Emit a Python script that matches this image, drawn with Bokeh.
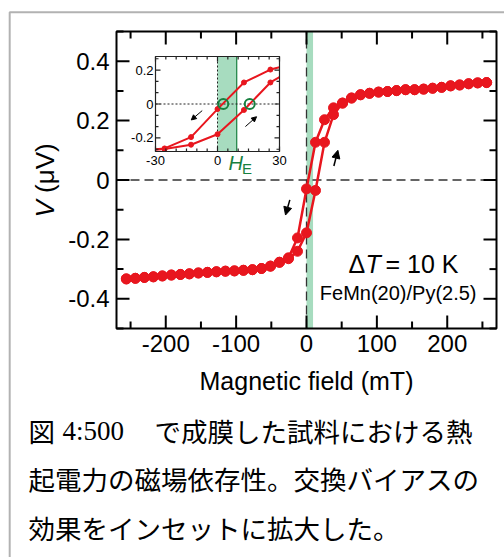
import math
from bokeh.plotting import figure
from bokeh.models import (Range1d, BoxAnnotation, Label, Arrow, NormalHead,
                          CoordinateMapping, LinearScale)
from bokeh.core.properties import value
from bokeh.embed import file_html
from bokeh.resources import INLINE

# ---------------- data ----------------
field_mT = [-256, -243.2, -230.4, -217.6, -204.8, -192, -179.2, -166.4, -153.6, -140.8,
            -128, -115.2, -102.4, -89.6, -76.8, -64, -51.2, -38.4, -25.6, -12.8,
            0, 12.8, 25.6, 38.4, 51.2, 64, 76.8, 89.6, 102.4, 115.2,
            128, 140.8, 153.6, 166.4, 179.2, 192, 204.8, 217.6, 230.4, 243.2, 256]
# decreasing-field branch
v_down = [-0.333, -0.331, -0.328, -0.326, -0.323, -0.320, -0.318, -0.316, -0.313, -0.311,
          -0.309, -0.307, -0.306, -0.304, -0.302, -0.298, -0.290, -0.277, -0.262, -0.195,
          -0.030, 0.127, 0.203, 0.243, 0.259, 0.276, 0.287, 0.292, 0.296, 0.298,
          0.301, 0.304, 0.304, 0.306, 0.309, 0.312, 0.317, 0.320, 0.324, 0.327, 0.328]
# increasing-field branch
v_up = [-0.333, -0.331, -0.328, -0.326, -0.323, -0.320, -0.318, -0.316, -0.313, -0.311,
        -0.309, -0.307, -0.306, -0.304, -0.302, -0.298, -0.290, -0.277, -0.265, -0.240,
        -0.178, -0.035, 0.127, 0.220, 0.259, 0.276, 0.287, 0.292, 0.296, 0.298,
        0.301, 0.304, 0.304, 0.306, 0.309, 0.312, 0.317, 0.320, 0.324, 0.327, 0.328]

h_exchange = 9.3              # exchange bias field H_E (mT)
zero_crossings = [2.8, 15.6]  # mT
zero_v = [0, 0]

x_range = (-270, 270)
y_range = (-0.5, 0.5)
x_ticks = [-200, -100, 0, 100, 200]
x_tick_labels = ["-200", "-100", "0", "100", "200"]
x_minor = [-250, -150, -50, 50, 150, 250]
y_ticks = [-0.4, -0.2, 0, 0.2, 0.4]
y_tick_labels = ["-0.4", "-0.2", "0", "0.2", "0.4"]
y_minor = [-0.5, -0.3, -0.1, 0.1, 0.3, 0.5]

in_x_range = (-30, 30)
in_y_range = (-0.28, 0.28)
in_x_ticks = [-30, 0, 30]
in_x_tick_labels = ["-30", "0", "30"]
in_x_minor = [-25, -20, -15, -10, -5, 5, 10, 15, 20, 25]
in_y_ticks = [-0.2, 0, 0.2]
in_y_tick_labels = ["-0.2", "0", "0.2"]
in_y_minor = [-0.2667, -0.1333, -0.0667, 0.0667, 0.1333, 0.2667]

x_label = "Magnetic field (mT)"
caption_first = ["図", "4:500", "で成膜した試料における熱"]
caption_lines = ["起電力の磁場依存性。交換バイアスの", "効果をインセットに拡大した。"]

RED = "#e8161e"
GREEN_BAND = "#a7dcbf"
GREEN_DARK = "#17803f"
AX = "black"
FONT = "Liberation Sans"
JP = "Noto Sans CJK JP"

W, H = 504, 557

# The page canvas: plot units are pixels (y upward); all panels are drawn inside it.
p = figure(width=W, height=H, x_range=Range1d(0, W), y_range=Range1d(0, H),
           x_axis_type=None, y_axis_type=None, min_border=0,
           output_backend="svg", toolbar_location=None, outline_line_color=None,
           background_fill_color="white", border_fill_color="white")
p.grid.visible = False

# main plot area: page x 116..496, page y 31..328
main = CoordinateMapping(x_source=Range1d(*x_range), y_source=Range1d(*y_range),
                         x_scale=LinearScale(), y_scale=LinearScale(),
                         x_target=Range1d(116, 496), y_target=Range1d(H - 328, H - 31))
# inset plot area: page x 155..279, page y 56..151
inset = CoordinateMapping(x_source=Range1d(*in_x_range), y_source=Range1d(*in_y_range),
                          x_scale=LinearScale(), y_scale=LinearScale(),
                          x_target=Range1d(155, 279), y_target=Range1d(H - 151, H - 56))


def on(mapping, r):
    r.coordinates = mapping
    return r


def clip_x(xs, ys, lo, hi):
    cx, cy = [], []
    for i, (x, y) in enumerate(zip(xs, ys)):
        if i > 0:
            xp, yp = xs[i - 1], ys[i - 1]
            for b in (lo, hi):
                if (xp - b) * (x - b) < 0:
                    t = (b - xp) / (x - xp)
                    cx.append(b)
                    cy.append(yp + t * (y - yp))
        if lo <= x <= hi:
            cx.append(x)
            cy.append(y)
    return cx, cy


def frame_and_ticks(mapping, xr, yr, wpx, hpx, xt, xm, yt, ym, lmaj, lmin, lw, color,
                    xlabels, ylabels, fsize, xoff, yoff):
    x0, x1 = xr
    y0, y1 = yr
    dx = (x1 - x0) / wpx
    dy = (y1 - y0) / hpx
    for ticks, L in ((xt, lmaj), (xm, lmin)):
        n = len(ticks)
        on(mapping, p.segment(x0=ticks + ticks, y0=[y0] * n + [y1] * n, x1=ticks + ticks,
                              y1=[y0 + L * dy] * n + [y1 - L * dy] * n,
                              line_color=color, line_width=lw))
    for ticks, L in ((yt, lmaj), (ym, lmin)):
        n = len(ticks)
        on(mapping, p.segment(y0=ticks + ticks, x0=[x0] * n + [x1] * n, y1=ticks + ticks,
                              x1=[x0 + L * dx] * n + [x1 - L * dx] * n,
                              line_color=color, line_width=lw))
    on(mapping, p.quad(left=[x0], right=[x1], bottom=[y0], top=[y1], fill_color=None,
                       line_color=color, line_width=lw))
    on(mapping, p.text(x=xt, y=[y0] * len(xt), text=xlabels, y_offset=yoff,
                       text_font=value(FONT), text_font_size=fsize, text_align="center",
                       text_baseline="top", text_color="black"))
    on(mapping, p.text(x=[x0] * len(yt), y=yt, text=ylabels, x_offset=-xoff,
                       text_font=value(FONT), text_font_size=fsize, text_align="right",
                       text_baseline="middle", text_color="black"))


# ---------- main plot ----------
on(main, p.quad(left=[0], right=[h_exchange], bottom=[y_range[0]], top=[y_range[1]],
                fill_color=GREEN_BAND, line_color=None))
on(main, p.segment(x0=[x_range[0], 0], y0=[0, y_range[0]], x1=[x_range[1], 0],
                   y1=[0, y_range[1]], line_color="#333333", line_width=1.3,
                   line_dash="9 5"))
on(main, p.line(field_mT, v_down, line_color=RED, line_width=2.5))
on(main, p.line(field_mT, v_up, line_color=RED, line_width=2.5))
on(main, p.scatter(field_mT, v_down, size=10, fill_color=RED, line_color=RED))
on(main, p.scatter(field_mT, v_up, size=10, fill_color=RED, line_color=RED))
frame_and_ticks(main, x_range, y_range, 380, 297, x_ticks, x_minor, y_ticks, y_minor,
                13, 7, 2, AX, x_tick_labels, y_tick_labels, "24px", 7, 6)

# ---------- inset ----------
ix0, ix1 = in_x_range
iy0, iy1 = in_y_range
on(inset, p.quad(left=[ix0], right=[ix1], bottom=[iy0], top=[iy1], fill_color="white",
                 line_color=None))
on(inset, p.quad(left=[0], right=[h_exchange], bottom=[iy0], top=[iy1],
                 fill_color=GREEN_BAND, line_color=None))
on(inset, p.segment(x0=[h_exchange], y0=[iy0], x1=[h_exchange], y1=[iy1],
                    line_color=GREEN_DARK, line_width=1.2))
on(inset, p.segment(x0=[ix0, 0], y0=[0, iy0], x1=[ix1, 0], y1=[0, iy1],
                    line_color="#222222", line_width=1, line_dash="2 2"))
for vv in (v_down, v_up):
    cx, cy = clip_x(field_mT, vv, ix0, ix1)
    on(inset, p.line(cx, cy, line_color=RED, line_width=2))
    sx = [h for h in field_mT if ix0 <= h <= ix1]
    sy = [v for h, v in zip(field_mT, vv) if ix0 <= h <= ix1]
    on(inset, p.scatter(sx, sy, size=5, fill_color=RED, line_color=RED))
on(inset, p.scatter(zero_crossings, zero_v, size=10, fill_color=None,
                    line_color=GREEN_DARK, line_width=2))
frame_and_ticks(inset, in_x_range, in_y_range, 124, 95, in_x_ticks, in_x_minor,
                in_y_ticks, in_y_minor, 5, 3, 1.2, "#222222",
                in_x_tick_labels, in_y_tick_labels, "13px", 2, 4)

# ---------- arrows ----------
arrows = [
    (main, -23.7, -0.067, -29.8, -0.118, 8, 1.5),
    (main, 38.9, 0.047, 44.6, 0.100, 8, 1.5),
    (inset, -7.4, -0.039, -12.7, -0.094, 5, 1),
    (inset, 13.5, -0.133, 18.9, -0.075, 5, 1),
]
for m, xs_, ys_, xe_, ye_, hs, lw in arrows:
    a = Arrow(end=NormalHead(size=hs, fill_color="black", line_color="black"),
              x_start=xs_, y_start=ys_, x_end=xe_, y_end=ye_,
              line_color="black", line_width=lw)
    a.coordinates = m
    p.add_layout(a)


# ---------- texts (page pixel positions) ----------
def clabel(x, y, text, size, font=FONT, style="normal", color="black",
           align="left", baseline="middle", angle=0):
    p.add_layout(Label(x=x, y=y, x_units="canvas", y_units="canvas", text=text,
                       text_font=font, text_font_size=size, text_font_style=style,
                       text_color=color, text_align=align, text_baseline=baseline,
                       angle=angle))


clabel(306, 380, x_label, "25px", align="center")
clabel(44, 217, "V", "26px", style="italic", angle=math.pi / 2)
clabel(44, 192.5, "(μV)", "26px", angle=math.pi / 2)

clabel(348, 263.3, "Δ", "25px")
clabel(365, 263.3, "T", "25px", style="italic")
clabel(385, 263.3, "= 10 K", "25px")
clabel(476, 292.7, "FeMn(20)/Py(2.5)", "20px", align="right")

clabel(228, 162, "H", "20px", style="italic", color=GREEN_DARK)
clabel(241.5, 167.5, "E", "15px", color=GREEN_DARK)

clabel(28, 430, caption_first[0], "26.5px", font=JP)
clabel(62, 430, caption_first[1], "27px", font="Liberation Serif")
clabel(154, 430, caption_first[2], "26.5px", font=JP)
clabel(28, 478, caption_lines[0], "26.5px", font=JP)
clabel(28, 527, caption_lines[1], "26.5px", font=JP)

# outer frame (left and top edges visible)
p.add_layout(BoxAnnotation(left=9.2, right=2000, top=11.7, bottom=2000,
                           left_units="canvas", right_units="canvas",
                           top_units="canvas", bottom_units="canvas",
                           fill_alpha=0, line_color="black", line_width=2))

open("out.html", "w").write(file_html(p, INLINE))
